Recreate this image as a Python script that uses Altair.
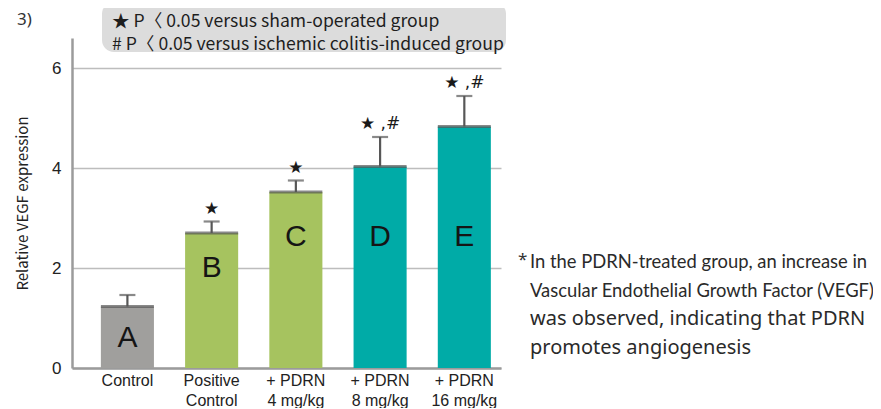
import altair as alt
import pandas as pd

# ---- data ----
groups = ["Control", "Positive|Control", "+ PDRN|4 mg/kg", "+ PDRN|8 mg/kg", "+ PDRN|16 mg/kg"]
means = [1.23, 2.70, 3.52, 4.03, 4.83]
errors = [0.23, 0.23, 0.23, 0.59, 0.61]
letters = ["A", "B", "C", "D", "E"]
letter_pos = [0.60, 2.00, 2.62, 2.62, 2.62]
significance = ["", "\u2605", "\u2605", "\u2605 ,#", "\u2605 ,#"]
bar_colors = ["#a09f9d", "#a6c35f", "#a6c35f", "#00aba7", "#00aba7"]
y_ticks = [0, 2, 4, 6]
legend_lines = [
    "\u2605 P\u3008 0.05 versus sham-operated group",
    "# P\u3008 0.05 versus ischemic colitis-induced group",
]
note_lines_narrow = [
    "In the PDRN-treated group, an increase in",
    "Vascular Endothelial Growth Factor (VEGF)",
]
note_lines_regular = [
    "was observed, indicating that PDRN",
    "promotes angiogenesis",
]

df = pd.DataFrame({
    "group": groups,
    "mean": means,
    "top": [m + e for m, e in zip(means, errors)],
    "letter": letters,
    "letter_pos": letter_pos,
    "sig": significance,
    "color": bar_colors,
})
one = pd.DataFrame({"k": [0]})

PLOT_W, PLOT_H = 429, 330
DARK = "#575757"

x_enc = alt.X(
    "group:N",
    sort=groups,
    scale=alt.Scale(paddingInner=0.37, paddingOuter=0.2316, align=0.74),
    axis=alt.Axis(
        title=None,
        labelExpr="split(datum.label, '|')",
        labelFont="Liberation Sans",
        labelFontSize=16,
        labelColor="#222222",
        labelLineHeight=20,
        labelPadding=4,
        labelAngle=0,
        ticks=False,
        domainColor="#9b9b9b",
        domainWidth=2.5,
        grid=False,
    ),
)
y_scale = alt.Scale(domain=[0, 6.6], nice=False, zero=True)
y_enc = alt.Y(
    "mean:Q",
    scale=y_scale,
    axis=alt.Axis(
        values=y_ticks,
        title="Relative VEGF expression",
        titleFont="Noto Sans CJK KR",
        titleFontSize=15,
        titleFontWeight="normal",
        titleColor="#222222",
        titlePadding=21,
        labelFont="Liberation Sans",
        labelFontSize=17,
        labelColor="#222222",
        labelPadding=11,
        ticks=False,
        domainColor="#9b9b9b",
        domainWidth=2.5,
        gridColor="#bdbdbd",
        gridWidth=1.5,
    ),
)

base = alt.Chart(df)

bars = base.mark_bar().encode(
    x=x_enc,
    y=y_enc,
    color=alt.Color("color:N", scale=None),
)

top_line = base.mark_tick(size=53, thickness=3, color=DARK).encode(
    x=alt.X("group:N", sort=groups),
    y=alt.Y("mean:Q"),
)

err_rule = base.mark_rule(color=DARK, strokeWidth=2.2).encode(
    x=alt.X("group:N", sort=groups),
    y=alt.Y("mean:Q"),
    y2="top:Q",
)

err_cap = base.mark_tick(size=16, thickness=2.2, color=DARK).encode(
    x=alt.X("group:N", sort=groups),
    y=alt.Y("top:Q"),
)

letter_text = base.mark_text(
    font="Liberation Sans", fontSize=30, color="#151515", baseline="middle"
).encode(
    x=alt.X("group:N", sort=groups),
    y=alt.Y("letter_pos:Q"),
    text="letter:N",
)

sig_text = base.mark_text(
    font="DejaVu Sans", fontSize=17, color="#1a1a1a", baseline="middle", dy=-13
).encode(
    x=alt.X("group:N", sort=groups),
    y=alt.Y("top:Q"),
    text="sig:N",
)

legend_box = alt.Chart(one).mark_rect(
    fill="#dcdcdc", cornerRadius=12
).encode(
    x=alt.value(30), x2=alt.value(434), y=alt.value(-36), y2=alt.value(14)
)

legend_text = alt.Chart(one).mark_text(
    font="Noto Sans CJK KR", fontSize=17.6, color="#1e1e1e",
    align="left", baseline="middle", lineBreak="\n", lineHeight=23,
).encode(
    x=alt.value(40), y=alt.value(-16.5), text=alt.value("\n".join(legend_lines))
)

panel_num = alt.Chart(one).mark_text(
    font="Noto Sans", fontSize=17, color="#333333", align="left", baseline="middle"
).encode(x=alt.value(-55), y=alt.value(-18), text=alt.value("3)"))

note_star = alt.Chart(one).mark_text(
    font="Noto Sans", fontSize=17, color="#333333", align="left", baseline="middle"
).encode(x=alt.value(446), y=alt.value(222), text=alt.value("*"))

note_narrow = alt.Chart(one).mark_text(
    font="Lato",
    fontSize=18.4, color="#2a2a2a", align="left", baseline="middle",
    lineBreak="\n", lineHeight=28.5,
).encode(x=alt.value(458), y=alt.value(224), text=alt.value("\n".join(note_lines_narrow)))

note_regular = alt.Chart(one).mark_text(
    font="Noto Sans", fontSize=20, color="#2a2a2a", align="left", baseline="middle",
    lineBreak="\n", lineHeight=29,
).encode(x=alt.value(458), y=alt.value(281), text=alt.value("\n".join(note_lines_regular)))

chart = alt.layer(
    bars, top_line, err_rule, err_cap, letter_text, sig_text,
    legend_box, legend_text, panel_num, note_star, note_narrow, note_regular,
).properties(
    width=PLOT_W,
    height=PLOT_H,
    autosize=alt.AutoSizeParams(type="none"),
    padding={"left": 64, "top": 30, "right": 372, "bottom": 40},
).configure_view(stroke=None)

chart.save("out.html", embed_options={"renderer": "svg", "actions": False})
